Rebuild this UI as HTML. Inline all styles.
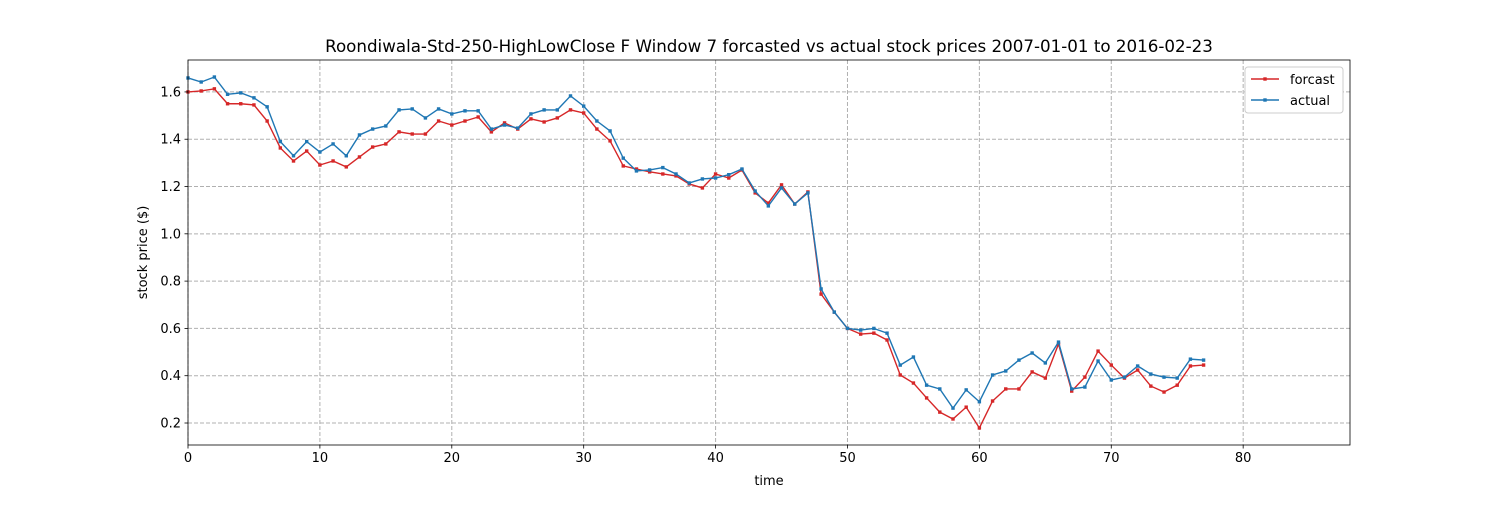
<!DOCTYPE html>
<html><head><meta charset="utf-8"><style>
body{margin:0;background:#fff;font-family:"Liberation Sans","DejaVu Sans",sans-serif;}
svg text{font-family:"DejaVu Sans","Liberation Sans",sans-serif;}
</style></head><body>
<svg id="chart" width="1500" height="500" xmlns="http://www.w3.org/2000/svg">
<rect width="1500" height="500" fill="#fff"/>
<g id="grid"></g><g id="series"></g><g id="axes"></g>
</svg>
<script>
const forecast=[1.600,1.604,1.613,1.550,1.550,1.545,1.477,1.363,1.308,1.350,1.291,1.308,1.283,1.325,1.367,1.380,1.431,1.422,1.422,1.477,1.460,1.477,1.494,1.431,1.469,1.443,1.486,1.473,1.490,1.524,1.511,1.443,1.393,1.287,1.274,1.262,1.253,1.245,1.211,1.194,1.253,1.236,1.270,1.173,1.130,1.207,1.126,1.177,0.745,0.669,0.600,0.576,0.580,0.551,0.403,0.369,0.306,0.246,0.217,0.267,0.179,0.293,0.344,0.344,0.416,0.390,0.534,0.335,0.394,0.504,0.445,0.390,0.424,0.356,0.331,0.360,0.441,0.445];
const actual=[1.659,1.642,1.663,1.590,1.596,1.575,1.537,1.390,1.330,1.390,1.346,1.380,1.330,1.418,1.443,1.456,1.524,1.528,1.490,1.528,1.507,1.520,1.520,1.443,1.460,1.447,1.507,1.524,1.524,1.583,1.540,1.477,1.435,1.320,1.266,1.270,1.280,1.253,1.215,1.232,1.236,1.250,1.274,1.181,1.118,1.194,1.126,1.173,0.767,0.669,0.600,0.593,0.600,0.580,0.445,0.479,0.360,0.344,0.263,0.340,0.290,0.403,0.420,0.466,0.496,0.454,0.542,0.344,0.352,0.462,0.382,0.394,0.441,0.407,0.394,0.390,0.470,0.466];
const xTicks=[0,10,20,30,40,50,60,70,80];
const yTicks=[0.2,0.4,0.6,0.8,1.0,1.2,1.4,1.6];
const L=188,R=1350,T=60,B=445,XMIN=0,XMAX=88.1,YMIN=0.107,YMAX=1.735;
const xs=v=>L+(v-XMIN)/(XMAX-XMIN)*(R-L);
const ys=v=>B-(v-YMIN)/(YMAX-YMIN)*(B-T);
const NS="http://www.w3.org/2000/svg";
function mk(tag,attrs,parent,txt){const e=document.createElementNS(NS,tag);for(const k in attrs)e.setAttribute(k,attrs[k]);if(txt!==undefined)e.textContent=txt;parent.appendChild(e);return e;}
const grid=document.getElementById('grid'),ser=document.getElementById('series'),ax=document.getElementById('axes');
xTicks.forEach(t=>{const x=xs(t);
 const g=mk('line',{x1:x,x2:x,y1:T,y2:B,stroke:'#b0b0b0','stroke-dasharray':'4,2','stroke-width':1},grid);
 
 
 mk('line',{x1:x,x2:x,y1:B,y2:B+3.5,stroke:'#000','stroke-width':0.8},ax);
 const tl=mk('text',{x:x,y:B+17,'text-anchor':'middle','font-size':13,fill:'#000'},ax,String(t));
 
 
});
yTicks.forEach(t=>{const y=ys(t);
 const g=mk('line',{x1:L,x2:R,y1:y,y2:y,stroke:'#b0b0b0','stroke-dasharray':'4,2','stroke-width':1},grid);
 
 
 mk('line',{x1:L-3.5,x2:L,y1:y,y2:y,stroke:'#000','stroke-width':0.8},ax);
 const tl=mk('text',{x:L-7,y:y+4.5,'text-anchor':'end','font-size':13,fill:'#000'},ax,t.toFixed(1));
 
 
});
function drawSeries(data,color,name){
 const pts=data.map((v,i)=>xs(i).toFixed(2)+','+ys(v).toFixed(2)).join(' ');
 const pl=mk('polyline',{points:pts,fill:'none',stroke:color,'stroke-width':1.4},ser);
 
 
 data.forEach((v,i)=>{const r=mk('rect',{x:xs(i)-1.7,y:ys(v)-1.7,width:3.4,height:3.4,fill:color},ser);
  
  });
}
drawSeries(forecast,'#d62728','forecast');
drawSeries(actual,'#1f77b4','actual');
const frame=mk('rect',{x:L,y:T,width:R-L,height:B-T,fill:'none',stroke:'#000','stroke-width':0.8},ax);


const title=mk('text',{x:(L+R)/2,y:52,'text-anchor':'middle','font-size':16.7,fill:'#000'},ax,'Roondiwala-Std-250-HighLowClose F Window 7 forcasted vs actual stock prices 2007-01-01 to 2016-02-23');


const xl=mk('text',{x:(L+R)/2,y:485,'text-anchor':'middle','font-size':13,fill:'#000'},ax,'time');


const yl=mk('text',{x:0,y:0,'text-anchor':'middle','font-size':13,fill:'#000',transform:'translate(147,'+((T+B)/2)+') rotate(-90)'},ax,'stock price ($)');


const lg=mk('g',{},ax);


mk('rect',{x:1245,y:67,width:98,height:46,rx:3,fill:'#fff',stroke:'#ccc','stroke-width':1},lg);
[['forcast','#d62728',79],['actual','#1f77b4',100]].forEach(([n,c,y])=>{
 const e=mk('g',{},lg);
 
 
 mk('line',{x1:1251,x2:1279,y1:y,y2:y,stroke:c,'stroke-width':1.4},e);
 mk('rect',{x:1263.3,y:y-1.7,width:3.4,height:3.4,fill:c},e);
 mk('text',{x:1290,y:y+5,'font-size':13,fill:'#000'},e,n);
});
</script>
</body></html>
